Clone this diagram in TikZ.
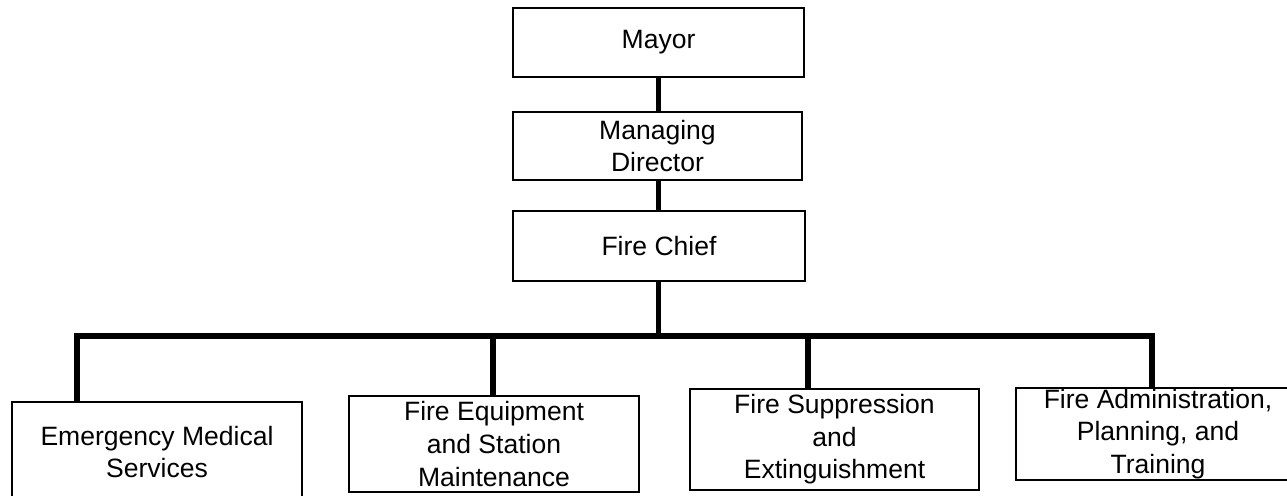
\documentclass[tikz,border=0pt]{standalone}
\usepackage{fontspec}
\setmainfont{Liberation Sans}
\begin{document}
\begin{tikzpicture}[x=0.02cm,y=-0.02cm,
box/.style={draw,line width=0.8pt,inner sep=0pt,align=center,
font=\fontsize{15.1pt}{18.5pt}\selectfont},
link/.style={line width=3.2pt,line join=miter}]
\useasboundingbox(0,0)rectangle(1287,495);
\clip(0,0)rectangle(1287,495);
\node[box,minimum width=5.82cm,minimum height=1.38cm](mayor)at(658.5,42.5){Mayor};
\node[box,minimum width=5.78cm,minimum height=1.36cm](director)at(657.5,146){Managing\\Director};
\node[box,minimum width=5.84cm,minimum height=1.4cm](chief)at(659,246){Fire Chief};
\node[box,minimum width=5.8cm,minimum height=2cm](ems)at(157,452){Emergency Medical\\Services};
\node[box,minimum width=5.8cm,minimum height=1.92cm](equip)at(494,444){Fire Equipment\\and Station\\Maintenance};
\node[box,minimum width=5.78cm,minimum height=2.02cm](suppr)at(834.5,439.5){Fire Suppression\\and\\Extinguishment};
\node[box,minimum width=5.68cm,minimum height=1.84cm](admin)at(1158,434){Fire Administration,\\Planning, and\\Training};
\coordinate(busL)at(77,336);
\coordinate(busR)at(1152,336);
\coordinate(drop2)at(493,336);
\coordinate(drop3)at(808,336);
\draw[link](mayor.south-|mayor)--(director.north-|mayor);
\draw[link](director.south-|mayor)--(chief.north-|mayor);
\draw[link](chief.south-|mayor)--(busR-|mayor);
\draw[link](ems.north-|busL)--(busL)--(busR)--(admin.north-|busR);
\draw[link](drop2)--(equip.north-|drop2);
\draw[link](drop3)--(suppr.north-|drop3);
\end{tikzpicture}
\end{document}
